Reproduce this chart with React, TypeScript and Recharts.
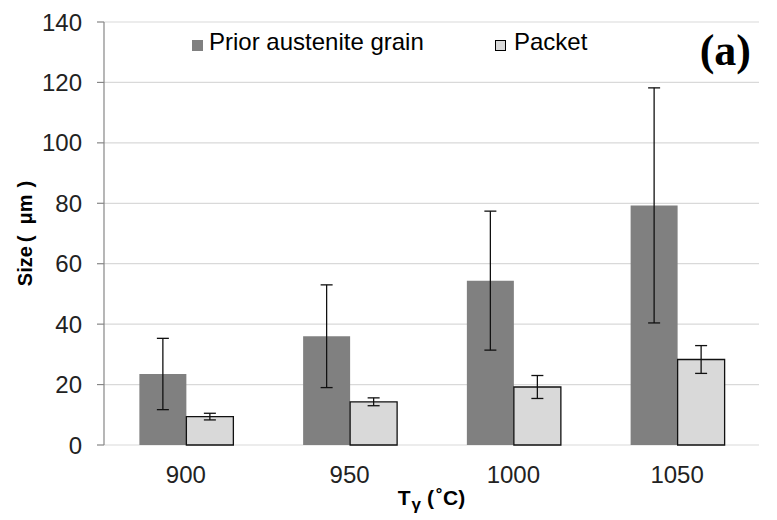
import React from "react";
import { Bar, BarChart, CartesianGrid, ErrorBar, Legend, XAxis, YAxis } from "recharts";

const temperatures = ["900", "950", "1000", "1050"];
const grainSize = [23.5, 36.0, 54.4, 79.3];
const grainErr = [11.8, 17.0, 23.0, 38.9];
const packetSize = [9.4, 14.3, 19.2, 28.3];
const packetErr = [1.1, 1.3, 3.8, 4.6];
const yTicks = [0, 20, 40, 60, 80, 100, 120, 140];
const boundaryTicks = [0, 1, 2, 3, 4];

const data = temperatures.map((t, i) => ({
  t,
  grain: grainSize[i],
  grainErr: grainErr[i],
  packet: packetSize[i],
  packetErr: packetErr[i]
}));

const FONT = "'Liberation Sans', Arial, sans-serif";
const AXIS = "#868686";
const DARK = "#808080";
const LIGHT = "#d9d9d9";

function XTitle({ viewBox }: any) {
  const cx = viewBox.x + viewBox.width / 2;
  return (
    <text x={cx} y={505} textAnchor="middle" fontFamily={FONT} fontWeight="bold" fontSize={21} fill="#000">
      T
      <tspan fontSize={17} dy={5} dx={1}>γ</tspan>
      <tspan dy={-5} dx={6}>(</tspan>
      <tspan dx={2}>˚C)</tspan>
    </text>
  );
}

function YTitle({ viewBox }: any) {
  const cy = viewBox.y + viewBox.height / 2;
  return (
    <text
      x={25}
      y={cy}
      transform={`rotate(-90 25 ${cy})`}
      textAnchor="middle"
      dominantBaseline="central"
      fontFamily={FONT}
      fontWeight="bold"
      fontSize={20}
      fill="#000"
    >
      Size
      <tspan dx={4}>(</tspan>
      <tspan dx={11}>μm</tspan>
      <tspan dx={7}>)</tspan>
    </text>
  );
}

function LegendBox() {
  return (
    <div style={{ position: "relative", width: 777, height: 0, fontFamily: FONT, fontSize: 24, color: "#000" }}>
      <div style={{ position: "absolute", left: 192, top: 40, width: 11, height: 11, background: DARK }} />
      <div style={{ position: "absolute", left: 209, top: 28, lineHeight: "28px", whiteSpace: "nowrap" }}>
        Prior austenite grain
      </div>
      <div style={{ position: "absolute", left: 495, top: 40, width: 9, height: 9, background: LIGHT, border: "1px solid #000" }} />
      <div style={{ position: "absolute", left: 514, top: 28, lineHeight: "28px" }}>Packet</div>
      <div
        style={{
          position: "absolute",
          left: 0,
          width: 751,
          top: 26,
          textAlign: "right",
          fontFamily: "'Liberation Serif', 'Times New Roman', serif",
          fontWeight: "bold",
          fontSize: 44,
          lineHeight: "50px"
        }}
      >
        (a)
      </div>
    </div>
  );
}

export default function App() {
  return (
    <div style={{ position: "absolute", left: 0, top: 0, width: 777, height: 520, background: "#fff" }}>
      <BarChart
        width={777}
        height={520}
        data={data}
        margin={{ top: 22, right: 18, bottom: 0, left: 0 }}
        barCategoryGap="21.6%"
        barGap={0}
      >
        <CartesianGrid vertical={false} stroke={LIGHT} strokeWidth={1.2} />
        <XAxis
          xAxisId="grid"
          type="number"
          domain={[0, 4]}
          ticks={boundaryTicks}
          tickFormatter={() => ""}
          tickSize={8}
          height={0}
          axisLine={{ stroke: AXIS, strokeWidth: 1.2 }}
          tickLine={{ stroke: AXIS, strokeWidth: 1.2 }}
        />
        <XAxis
          dataKey="t"
          height={75}
          axisLine={false}
          tickLine={false}
          tickSize={0}
          tickMargin={21}
          tick={{ fill: "#222", fontSize: 24, fontFamily: FONT }}
          label={<XTitle />}
        />
        <YAxis
          width={104}
          domain={[0, 140]}
          ticks={yTicks}
          interval={0}
          tickSize={7}
          tickMargin={15}
          axisLine={{ stroke: AXIS, strokeWidth: 1.2 }}
          tickLine={{ stroke: AXIS, strokeWidth: 1.2 }}
          tick={{ fill: "#222", fontSize: 24, fontFamily: FONT }}
          label={<YTitle />}
        />
        <Legend verticalAlign="top" wrapperStyle={{ position: "absolute", top: 0, left: 0 }} content={<LegendBox />} />
        <Bar dataKey="grain" fill={DARK} isAnimationActive={false}>
          <ErrorBar dataKey="grainErr" width={6} stroke="#111" strokeWidth={1.3} />
        </Bar>
        <Bar dataKey="packet" fill={LIGHT} stroke="#111" strokeWidth={1.3} isAnimationActive={false}>
          <ErrorBar dataKey="packetErr" width={6} stroke="#111" strokeWidth={1.3} />
        </Bar>
      </BarChart>
    </div>
  );
}
